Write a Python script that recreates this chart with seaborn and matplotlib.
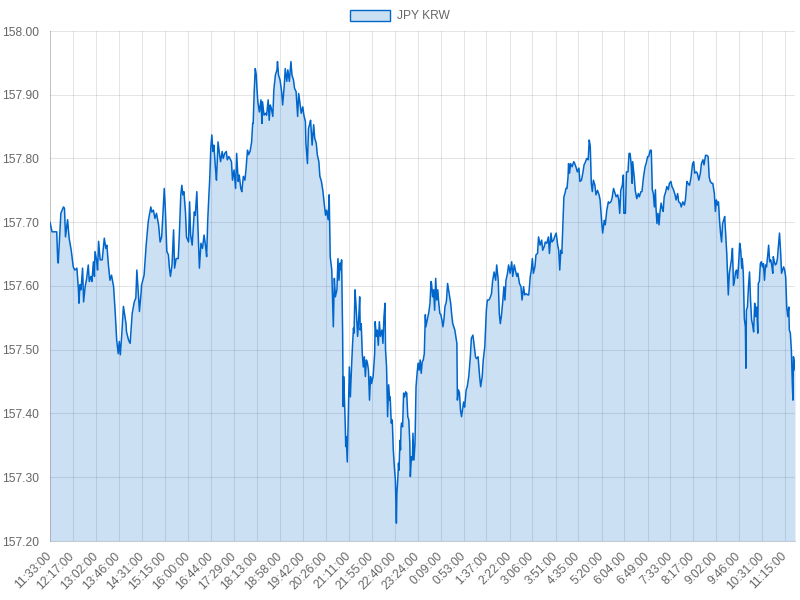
import matplotlib
matplotlib.use("Agg")
import matplotlib.pyplot as plt
import seaborn as sns
import pandas as pd
from matplotlib.patches import Patch
from matplotlib.ticker import FormatStrFormatter

# Данные: минуты от 11:33 и курс JPY/KRW
series_name = "JPY KRW"

minutes = [
    0, 4, 13, 15, 16, 21, 26, 28, 30, 34, 37, 41, 45, 48, 52, 55, 56, 58, 60, 63,
    65, 68, 71, 74, 76, 79, 81, 84, 86, 87, 90, 92, 94, 97, 101, 105, 108, 110, 113, 116,
    119, 123, 126, 129, 132, 134, 136, 139, 142, 145, 147, 148, 152, 155, 158, 159, 163, 166, 168, 173,
    176, 177, 182, 186, 190, 195, 197, 200, 203, 206, 210, 213, 216, 218, 221, 223, 226, 229, 231, 233,
    236, 239, 241, 244, 248, 250, 253, 255, 257, 259, 262, 264, 268, 270, 272, 275, 277, 279, 281, 284,
    286, 289, 292, 295, 298, 301, 303, 305, 307, 309, 311, 313, 315, 317, 320, 322, 325, 328, 330, 333,
    335, 338, 341, 343, 346, 348, 351, 353, 356, 359, 361, 364, 366, 369, 371, 374, 377, 379, 382, 384,
    387, 390, 392, 393, 395, 397, 399, 400, 402, 405, 408, 410, 411, 414, 417, 419, 422, 424, 426, 428,
    431, 433, 436, 439, 440, 442, 445, 448, 450, 453, 455, 458, 460, 463, 466, 468, 471, 473, 476, 479,
    481, 484, 486, 489, 491, 494, 495, 498, 500, 502, 504, 507, 510, 512, 515, 517, 520, 522, 525, 528,
    530, 533, 535, 538, 540, 542, 545, 548, 550, 552, 555, 557, 559, 561, 563, 564, 566, 567, 568, 569,
    571, 572, 573, 575, 577, 579, 581, 583, 585, 587, 588, 590, 592, 595, 597, 599, 600, 602, 604, 606,
    608, 610, 612, 614, 616, 618, 620, 622, 625, 628, 629, 631, 633, 635, 637, 639, 642, 644, 646, 648,
    649, 651, 653, 655, 657, 658, 660, 662, 664, 666, 668, 669, 670, 671, 673, 674, 675, 677, 678, 679,
    680, 682, 684, 686, 688, 690, 692, 694, 696, 697, 699, 701, 702, 704, 706, 708, 710, 712, 714, 716,
    718, 720, 722, 724, 726, 727, 729, 731, 733, 735, 737, 738, 740, 742, 744, 746, 748, 750, 752, 754,
    756, 758, 760, 762, 764, 766, 767, 769, 771, 773, 775, 777, 779, 781, 783, 785, 787, 788, 790, 792,
    794, 796, 800, 802, 805, 807, 810, 813, 815, 818, 820, 823, 825, 828, 831, 833, 836, 838, 841, 844,
    846, 849, 851, 854, 856, 859, 862, 864, 867, 869, 871, 873, 876, 878, 880, 882, 885, 887, 890, 893,
    895, 898, 900, 903, 905, 908, 911, 913, 916, 918, 921, 924, 926, 929, 931, 933, 935, 938, 940, 943,
    945, 948, 951, 953, 956, 958, 961, 964, 966, 969, 971, 974, 976, 979, 982, 984, 986, 988, 990, 992,
    994, 996, 998, 1000, 1002, 1003, 1005, 1007, 1010, 1013, 1015, 1018, 1020, 1023, 1025, 1028, 1031, 1033, 1036, 1038,
    1041, 1043, 1045, 1047, 1049, 1051, 1054, 1056, 1059, 1062, 1064, 1067, 1069, 1072, 1074, 1077, 1080, 1082, 1085, 1087,
    1090, 1092, 1095, 1098, 1100, 1102, 1104, 1107, 1109, 1110, 1113, 1115, 1118, 1120, 1122, 1124, 1126, 1127, 1130, 1132,
    1135, 1138, 1140, 1143, 1145, 1148, 1151, 1153, 1156, 1158, 1161, 1163, 1165, 1167, 1169, 1171, 1172, 1174, 1176, 1178,
    1180, 1182, 1184, 1186, 1188, 1191, 1193, 1196, 1198, 1201, 1203, 1206, 1209, 1211, 1214, 1216, 1219, 1221, 1224, 1227,
    1229, 1232, 1234, 1237, 1240, 1241, 1243, 1245, 1247, 1250, 1252, 1255, 1258, 1260, 1263, 1265, 1268, 1270, 1273, 1275,
    1277, 1280, 1282, 1285, 1287, 1289, 1291, 1293, 1295, 1297, 1299, 1301, 1303, 1305, 1307, 1309, 1310, 1312, 1314, 1316,
    1318, 1320, 1322, 1324, 1326, 1328, 1330, 1332, 1334, 1336, 1338, 1339, 1341, 1343, 1345, 1346, 1347, 1349, 1351, 1353,
    1355, 1357, 1359, 1361, 1363, 1365, 1367, 1369, 1370, 1372, 1374, 1376, 1378, 1380, 1382, 1384, 1386, 1388, 1390, 1392,
    1394, 1396, 1398, 1399, 1401, 1403, 1405, 1407, 1409, 1411, 1413, 1415, 1417, 1419, 1421, 1423, 1425, 1427, 1429, 1430,
    1432, 1434, 1436, 1437, 1438, 1439, 1441,
]

rate = [
    157.700, 157.685, 157.685, 157.638, 157.636, 157.714, 157.724, 157.722, 157.677, 157.704,
    157.675, 157.656, 157.630, 157.625, 157.628, 157.594, 157.573, 157.602, 157.594, 157.628,
    157.575, 157.599, 157.612, 157.633, 157.607, 157.615, 157.607, 157.638, 157.615, 157.654,
    157.641, 157.625, 157.670, 157.641, 157.641, 157.675, 157.659, 157.664, 157.633, 157.609,
    157.617, 157.599, 157.560, 157.515, 157.494, 157.513, 157.492, 157.526, 157.568, 157.552,
    157.541, 157.528, 157.515, 157.510, 157.544, 157.557, 157.575, 157.581, 157.625, 157.560,
    157.588, 157.601, 157.617, 157.664, 157.701, 157.724, 157.716, 157.719, 157.706, 157.714,
    157.696, 157.669, 157.677, 157.706, 157.753, 157.722, 157.654, 157.649, 157.628, 157.615,
    157.633, 157.688, 157.628, 157.643, 157.643, 157.677, 157.743, 157.758, 157.743, 157.748,
    157.716, 157.677, 157.669, 157.732, 157.680, 157.664, 157.690, 157.716, 157.711, 157.748,
    157.696, 157.628, 157.667, 157.659, 157.680, 157.662, 157.646, 157.701, 157.737, 157.769,
    157.816, 157.837, 157.811, 157.821, 157.785, 157.766, 157.826, 157.806, 157.795, 157.811,
    157.800, 157.808, 157.811, 157.798, 157.803, 157.800, 157.795, 157.766, 157.782, 157.753,
    157.808, 157.764, 157.774, 157.753, 157.748, 157.772, 157.766, 157.782, 157.813, 157.806,
    157.811, 157.826, 157.855, 157.855, 157.905, 157.941, 157.931, 157.913, 157.889, 157.873,
    157.892, 157.855, 157.889, 157.868, 157.871, 157.868, 157.892, 157.860, 157.884, 157.879,
    157.866, 157.908, 157.931, 157.939, 157.952, 157.931, 157.923, 157.905, 157.884, 157.913,
    157.941, 157.921, 157.939, 157.921, 157.952, 157.931, 157.923, 157.910, 157.905, 157.866,
    157.902, 157.884, 157.871, 157.881, 157.868, 157.858, 157.824, 157.792, 157.847, 157.853,
    157.860, 157.821, 157.853, 157.832, 157.824, 157.806, 157.795, 157.772, 157.764, 157.748,
    157.732, 157.711, 157.719, 157.704, 157.743, 157.646, 157.625, 157.536, 157.612, 157.583,
    157.594, 157.643, 157.609, 157.636, 157.625, 157.641, 157.526, 157.411, 157.458, 157.437,
    157.385, 157.348, 157.364, 157.324, 157.395, 157.473, 157.426, 157.468, 157.505, 157.534,
    157.526, 157.594, 157.568, 157.521, 157.547, 157.583, 157.531, 157.541, 157.494, 157.473,
    157.489, 157.458, 157.484, 157.479, 157.468, 157.421, 157.458, 157.447, 157.458, 157.494,
    157.544, 157.521, 157.531, 157.507, 157.544, 157.521, 157.531, 157.510, 157.552, 157.573,
    157.500, 157.473, 157.395, 157.445, 157.421, 157.426, 157.385, 157.390, 157.343, 157.317,
    157.296, 157.259, 157.228, 157.275, 157.301, 157.322, 157.311, 157.358, 157.343, 157.379,
    157.385, 157.379, 157.432, 157.426, 157.434, 157.432, 157.395, 157.390, 157.353, 157.301,
    157.332, 157.327, 157.369, 157.327, 157.353, 157.442, 157.463, 157.479, 157.468, 157.484,
    157.463, 157.481, 157.484, 157.494, 157.555, 157.536, 157.544, 157.552, 157.560, 157.573,
    157.607, 157.604, 157.583, 157.594, 157.562, 157.612, 157.578, 157.594, 157.573, 157.557,
    157.555, 157.547, 157.536, 157.547, 157.568, 157.573, 157.578, 157.604, 157.594, 157.583,
    157.573, 157.555, 157.541, 157.536, 157.531, 157.521, 157.510, 157.421, 157.437, 157.432,
    157.405, 157.395, 157.418, 157.410, 157.437, 157.442, 157.458, 157.489, 157.518, 157.523,
    157.510, 157.489, 157.486, 157.489, 157.458, 157.442, 157.458, 157.484, 157.505, 157.562,
    157.578, 157.578, 157.581, 157.588, 157.607, 157.622, 157.609, 157.633, 157.609, 157.557,
    157.541, 157.552, 157.578, 157.599, 157.578, 157.609, 157.620, 157.633, 157.620, 157.638,
    157.615, 157.633, 157.625, 157.615, 157.620, 157.604, 157.599, 157.578, 157.599, 157.586,
    157.588, 157.586, 157.586, 157.615, 157.625, 157.643, 157.620, 157.630, 157.649, 157.651,
    157.677, 157.664, 157.672, 157.656, 157.662, 157.669, 157.667, 157.677, 157.651, 157.683,
    157.669, 157.672, 157.677, 157.683, 157.664, 157.656, 157.625, 157.656, 157.651, 157.698,
    157.740, 157.745, 157.753, 157.753, 157.771, 157.792, 157.777, 157.792, 157.787, 157.795,
    157.792, 157.785, 157.779, 157.785, 157.764, 157.766, 157.779, 157.790, 157.795, 157.800,
    157.798, 157.829, 157.819, 157.761, 157.748, 157.766, 157.758, 157.743, 157.750, 157.743,
    157.735, 157.701, 157.683, 157.703, 157.696, 157.719, 157.732, 157.730, 157.732, 157.737,
    157.753, 157.748, 157.740, 157.743, 157.735, 157.714, 157.750, 157.758, 157.774, 157.714,
    157.714, 157.779, 157.779, 157.808, 157.808, 157.792, 157.761, 157.795, 157.771, 157.750,
    157.737, 157.745, 157.740, 157.748, 157.748, 157.771, 157.787, 157.792, 157.803, 157.803,
    157.813, 157.813, 157.751, 157.745, 157.724, 157.751, 157.724, 157.698, 157.714, 157.696,
    157.717, 157.730, 157.722, 157.717, 157.740, 157.748, 157.756, 157.751, 157.761, 157.764,
    157.756, 157.751, 157.743, 157.735, 157.745, 157.732, 157.730, 157.724, 157.732, 157.727,
    157.735, 157.764, 157.761, 157.758, 157.771, 157.779, 157.792, 157.795, 157.777, 157.779,
    157.777, 157.766, 157.777, 157.792, 157.798, 157.790, 157.805, 157.805, 157.803, 157.771,
    157.764, 157.761, 157.761, 157.745, 157.717, 157.735, 157.727, 157.732, 157.703, 157.683,
    157.669, 157.698, 157.703, 157.709, 157.680, 157.651, 157.630, 157.586, 157.620, 157.630,
    157.641, 157.659, 157.601, 157.609, 157.622, 157.625, 157.612, 157.635, 157.667, 157.656,
    157.628, 157.643, 157.620, 157.549, 157.536, 157.471, 157.562, 157.567, 157.599, 157.622,
    157.578, 157.547, 157.539, 157.528, 157.573, 157.552, 157.567, 157.526, 157.604, 157.607,
    157.635, 157.638, 157.630, 157.635, 157.609, 157.633, 157.630, 157.646, 157.664, 157.638,
    157.641, 157.633, 157.620, 157.646, 157.638, 157.633, 157.635, 157.643, 157.662, 157.683,
    157.656, 157.620, 157.625, 157.630, 157.625, 157.614, 157.567, 157.552, 157.567, 157.531,
    157.526, 157.499, 157.442, 157.421, 157.489, 157.484, 157.468,
]

tick_labels = [
    "11:33:00", "12:17:00", "13:02:00", "13:46:00", "14:31:00", "15:15:00", "16:00:00",
    "16:44:00", "17:29:00", "18:13:00", "18:58:00", "19:42:00", "20:26:00", "21:11:00",
    "21:55:00", "22:40:00", "23:24:00", "0:09:00", "0:53:00", "1:37:00", "2:22:00",
    "3:06:00", "3:51:00", "4:35:00", "5:20:00", "6:04:00", "6:49:00", "7:33:00",
    "8:17:00", "9:02:00", "9:46:00", "10:31:00", "11:15:00",
]

y_ticks = [157.2, 157.3, 157.4, 157.5, 157.6, 157.7, 157.8, 157.9, 158.0]

LINE = "#0066cc"
TEXT = "#666666"
FS = 8.64  # 12px


# Перевод подписи времени в минуты от начала ряда
def minutes_from_start(label, start="11:33:00"):
    h, m, _ = map(int, label.split(":"))
    h0, m0, _ = map(int, start.split(":"))
    return ((h * 60 + m) - (h0 * 60 + m0)) % 1440


def main():
    df = pd.DataFrame({"minute": minutes, "rate": rate})

    sns.set_style("white")
    plt.rcParams["font.family"] = ["Liberation Sans", "DejaVu Sans"]

    fig = plt.figure(figsize=(8, 6), dpi=100)
    ax = fig.add_axes([50 / 800, 1 - 541 / 600, 745 / 800, 510 / 600])

    ax.fill_between(df["minute"], df["rate"], y_ticks[0], color=LINE, alpha=0.2,
                    linewidth=0, zorder=2)
    sns.lineplot(data=df, x="minute", y="rate", ax=ax, color=LINE, linewidth=1.1,
                 estimator=None, sort=False, zorder=3)

    ax.set_xlim(0, 1441)
    ax.set_ylim(y_ticks[0], y_ticks[-1])
    ax.set_xticks([minutes_from_start(t) for t in tick_labels])
    ax.set_xticklabels(tick_labels, rotation=45, ha="right", va="center",
                       rotation_mode="anchor")
    ax.set_yticks(y_ticks)
    ax.yaxis.set_major_formatter(FormatStrFormatter("%.2f"))
    ax.set_xlabel("")
    ax.set_ylabel("")

    # сетка и засечки в стиле Chart.js: чёрный с прозрачностью 0.1
    ax.set_axisbelow(True)
    ax.grid(True, color="black", alpha=0.1, linewidth=0.75)
    ax.tick_params(axis="both", length=5, width=0.75, color=(0.9, 0.9, 0.9),
                   labelsize=FS, labelcolor=TEXT, pad=3)
    ax.tick_params(axis="x", pad=4.5)
    for side in ["top", "right"]:
        ax.spines[side].set_visible(False)
    for side in ["left", "bottom"]:
        ax.spines[side].set_color("black")
        ax.spines[side].set_alpha(0.15)
        ax.spines[side].set_linewidth(0.75)

    handle = Patch(facecolor=(0, 0.4, 0.8, 0.2), edgecolor=LINE, linewidth=1.0)
    fig.legend(handles=[handle], labels=[series_name], loc="center",
               bbox_to_anchor=(0.5, 1 - 16 / 600), frameon=False, fontsize=FS,
               labelcolor=TEXT, handlelength=3.33, handleheight=1.05,
               handletextpad=0.6)

    fig.savefig("out.png", dpi=100)


if __name__ == "__main__":
    main()
